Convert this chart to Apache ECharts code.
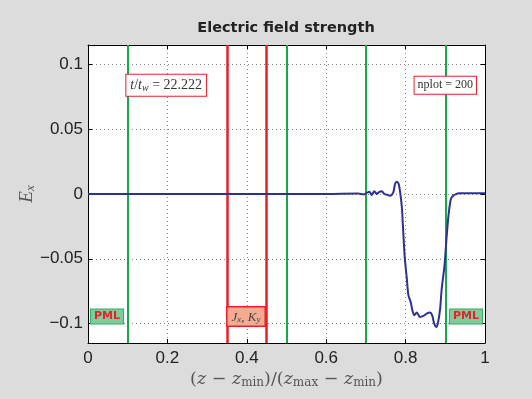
<!DOCTYPE html>
<html><head><meta charset="utf-8">
<script src="https://cdn.jsdelivr.net/npm/echarts@6/dist/echarts.min.js"></script>
<style>html,body{margin:0;padding:0;background:#dcdcdc}#c{width:532px;height:399px}</style>
</head><body><div id="c"></div><script>
// normalized position (z - zmin)/(zmax - zmin)
const zNorm = [0, 0.60, 0.68, 0.695, 0.702, 0.7086, 0.7146, 0.7212, 0.7272, 0.733, 0.7398, 0.7464, 0.753, 0.7607, 0.769, 0.7733, 0.7776, 0.7826, 0.7877, 0.791, 0.794, 0.798, 0.803, 0.807, 0.8128, 0.817, 0.822, 0.828, 0.832, 0.836, 0.845, 0.853, 0.861, 0.867, 0.872, 0.878, 0.882, 0.887, 0.891, 0.898, 0.903, 0.908, 0.914, 0.92, 0.926, 0.934, 0.95, 1];
// electric field Ex
const ex = [0, 0, 0.0003, -0.0003, 0.0008, 0.0018, -0.0008, 0.0021, 0, 0.0015, 0.0021, 0, -0.0005, -0.0013, 0.0013, 0.0077, 0.0095, 0.0077, -0.002, -0.012, -0.029, -0.0495, -0.065, -0.078, -0.0833, -0.0897, -0.0936, -0.0915, -0.0931, -0.0949, -0.0941, -0.0923, -0.0915, -0.0936, -0.100, -0.1026, -0.0987, -0.0885, -0.0731, -0.0551, -0.0346, -0.0167, -0.0038, -0.0013, -0.0003, 0.0005, 0.0005, 0.0005];
const xTicks = [0, 0.2, 0.4, 0.6, 0.8, 1];
const yTicks = [-0.1, -0.05, 0, 0.05, 0.1];
const yRange = [-0.115, 0.115];
const greenLines = [0.1, 0.5, 0.7, 0.9];
const redLines = [0.35, 0.45];
const annotations = [
  {name: 'time', coord: [0.197, 0.084]},
  {name: 'nplot', coord: [0.9, 0.084]},
  {name: 'pmlL', coord: [0.048, -0.0946]},
  {name: 'pmlR', coord: [0.952, -0.0946]},
  {name: 'src', coord: [0.398, -0.0946]}
];

const serif = 'Liberation Serif';
const wideSerif = 'DejaVu Serif';
const isTick = v => Math.abs(v / 0.05 - Math.round(v / 0.05)) < 1e-6;
const fmtY = v => {
  if (!isTick(v)) return '';
  const r = Math.round(v / 0.05) * 0.05;
  if (Math.abs(r) < 1e-9) return '0';
  return String(+r.toFixed(2)).replace('-', '\u2212');
};

const chart = echarts.init(document.getElementById('c'));
const gridLine = {type: [1, 3], color: '#8a8a8a', width: 1};
const annStyles = {
  time: {
    formatter: '{i|t}{n|/}{i|t}{s|w}{n| = 22.222}',
    backgroundColor: '#fff', borderColor: '#e8202a', borderWidth: 1, padding: [3, 4, 2, 4],
    rich: {
      i: {fontFamily: serif, fontStyle: 'italic', fontSize: 14, color: '#333'},
      n: {fontFamily: serif, fontSize: 14, color: '#333'},
      s: {fontFamily: serif, fontStyle: 'italic', fontSize: 10, color: '#333', padding: [6, 0, 0, 0]}
    }
  },
  nplot: {
    formatter: 'nplot = 200', fontFamily: serif, fontSize: 12, color: '#333',
    backgroundColor: '#fff', borderColor: '#e8202a', borderWidth: 1, padding: [3, 3, 2, 3]
  },
  pmlL: {
    formatter: 'PML', fontFamily: 'DejaVu Sans', fontWeight: 'bold', fontSize: 11, color: '#e8202a',
    backgroundColor: '#7fcb99', borderColor: '#2fae61', borderWidth: 1, padding: [2, 3, 1, 3]
  },
  src: {
    formatter: '{i|J}{s|x}{n|, }{i|K}{s|y}',
    backgroundColor: '#f6ab90', borderColor: '#e8202a', borderWidth: 1.5, padding: [3, 4, 1, 4],
    rich: {
      i: {fontFamily: serif, fontStyle: 'italic', fontSize: 13, color: '#444'},
      n: {fontFamily: serif, fontSize: 13, color: '#444'},
      s: {fontFamily: serif, fontStyle: 'italic', fontSize: 9, color: '#444', padding: [5, 0, 0, 0]}
    }
  }
};
annStyles.pmlR = annStyles.pmlL;

const tickSegs = [];
yTicks.forEach(v => {
  tickSegs.push([{coord: [0, v]}, {coord: [0.011, v]}]);
  tickSegs.push([{coord: [0.989, v]}, {coord: [1, v]}]);
});

chart.setOption({
  backgroundColor: '#dcdcdc',
  animation: false,
  title: {
    text: 'Electric field strength', left: 281, top: 16, textAlign: 'center',
    textStyle: {fontFamily: 'DejaVu Sans', fontWeight: 'bold', fontSize: 14.5, color: '#222'}
  },
  grid: {left: 88, right: 47, top: 45, bottom: 56, backgroundColor: '#fff', show: true, borderWidth: 0},
  xAxis: [{
    type: 'value', min: xTicks[0], max: xTicks[xTicks.length - 1], interval: 0.2,
    name: '{p|(}{i|z}{p| \u2212 }{i|z}{s|min}{p|)/(}{i|z}{s|max}{p| \u2212 }{i|z}{s|min}{p|)}',
    nameLocation: 'middle', nameGap: 27, nameMoveOverlap: false,
    nameTextStyle: {
      rich: {
        p: {fontFamily: wideSerif, fontSize: 17.5, color: '#555'},
        i: {fontFamily: wideSerif, fontStyle: 'italic', fontSize: 17.5, color: '#555'},
        s: {fontFamily: wideSerif, fontSize: 12, color: '#555', padding: [7, 0, 0, 0]}
      }
    },
    axisLine: {onZero: false, lineStyle: {color: '#000', width: 1}},
    axisTick: {inside: true, length: 4, lineStyle: {color: '#000'}},
    axisLabel: {fontFamily: 'Liberation Sans', fontSize: 17, color: '#222', margin: 7, formatter: v => String(+v.toFixed(1))},
    splitLine: {show: true, lineStyle: gridLine}
  }, {
    type: 'value', position: 'top', min: xTicks[0], max: xTicks[xTicks.length - 1], interval: 0.2,
    axisLine: {onZero: false, lineStyle: {color: '#000', width: 1}},
    axisTick: {inside: true, length: 4, lineStyle: {color: '#000'}},
    axisLabel: {show: false}, splitLine: {show: false}
  }],
  yAxis: [{
    type: 'value', min: yRange[0], max: yRange[1], interval: 0.005,
    name: '{i|E}{s|x}', nameLocation: 'middle', nameGap: 51, nameRotate: 90, nameMoveOverlap: false,
    nameTextStyle: {
      rich: {
        i: {fontFamily: serif, fontStyle: 'italic', fontSize: 19, color: '#555'},
        s: {fontFamily: serif, fontStyle: 'italic', fontSize: 13, color: '#555', padding: [7, 0, 0, 0]}
      }
    },
    axisLine: {onZero: false, lineStyle: {color: '#000', width: 1}},
    axisTick: {show: false},
    axisLabel: {fontFamily: 'Liberation Sans', fontSize: 17, color: '#222', margin: 5, formatter: fmtY},
    splitLine: {show: false}
  }, {
    type: 'value', position: 'right', min: yRange[0], max: yRange[1],
    axisLine: {show: true, onZero: false, lineStyle: {color: '#000', width: 1}},
    axisTick: {show: false}, axisLabel: {show: false}, splitLine: {show: false}
  }],
  series: [{
    type: 'line', data: [], z: 1, silent: true,
    markLine: {
      silent: true, symbol: 'none', label: {show: false}, animation: false,
      lineStyle: gridLine,
      data: yTicks.map(v => ({yAxis: v}))
    }
  }, {
    type: 'line', data: [], z: 2, silent: true,
    markLine: {
      silent: true, symbol: 'none', label: {show: false}, animation: false,
      lineStyle: {color: '#000', width: 1, type: 'solid'},
      data: tickSegs
    }
  }, {
    type: 'line', data: [], z: 3, silent: true,
    markLine: {
      silent: true, symbol: 'none', label: {show: false}, animation: false,
      data: greenLines.map(v => ({xAxis: v, lineStyle: {color: '#14a84f', width: 2, type: 'solid'}}))
        .concat(redLines.map(v => ({xAxis: v, lineStyle: {color: '#ee1c25', width: 2.5, type: 'solid'}})))
    }
  }, {
    type: 'line', z: 5, showSymbol: false, smooth: 0.3,
    data: zNorm.map((z, i) => [z, ex[i]]),
    lineStyle: {color: '#2e3192', width: 2},
    markPoint: {
      symbolSize: 0, silent: true, animation: false,
      data: annotations.map(a => ({coord: a.coord, label: Object.assign({show: true, position: 'inside'}, annStyles[a.name])}))
    }
  }]
});
</script></body></html>
